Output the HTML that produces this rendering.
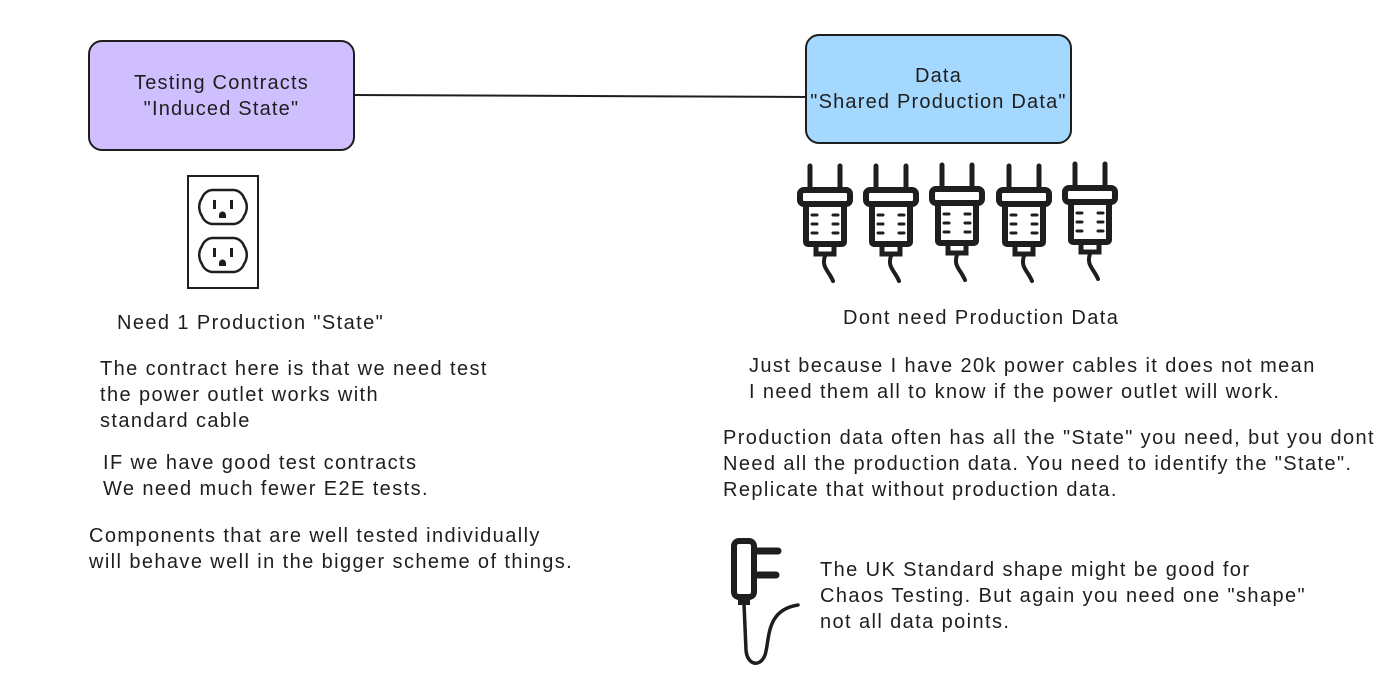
<!DOCTYPE html>
<html><head><style>
body{margin:0;width:1400px;height:685px;background:#fff;position:relative;overflow:hidden;font-family:"Liberation Sans",sans-serif;color:#1e1e1e}
.t{position:absolute;font-size:20px;letter-spacing:1.4px;line-height:26px;white-space:pre}
.box{position:absolute;border:2px solid #1e1e1e;border-radius:14px;box-sizing:border-box;display:flex;align-items:center;justify-content:center;text-align:center;font-size:20px;letter-spacing:1.2px;line-height:26px;white-space:nowrap}
</style></head><body>
<svg width="1400" height="685" style="position:absolute;left:0;top:0">
<line x1="353" y1="95" x2="808" y2="97" stroke="#1e1e1e" stroke-width="2"/>
<defs>
<g id="plug" fill="none" stroke="#1e1e1e" stroke-linecap="round">
<line x1="13" y1="3" x2="13" y2="26" stroke-width="5"/>
<line x1="43" y1="3" x2="43" y2="26" stroke-width="5"/>
<rect x="3" y="27" width="50" height="14" rx="4" stroke-width="6"/>
<rect x="9" y="41" width="38" height="40" rx="2" stroke-width="6"/>
<line x1="15" y1="52" x2="20" y2="52" stroke-width="3"/><line x1="15" y1="61" x2="20" y2="61" stroke-width="3"/><line x1="15" y1="70" x2="20" y2="70" stroke-width="3"/>
<line x1="36" y1="52" x2="41" y2="52" stroke-width="3"/><line x1="36" y1="61" x2="41" y2="61" stroke-width="3"/><line x1="36" y1="70" x2="41" y2="70" stroke-width="3"/>
<rect x="19" y="81" width="18" height="10" stroke-width="5"/>
<path d="M28 93 C24 104 32 108 36 118" stroke-width="4"/>
</g>
</defs>
<use href="#plug" x="797" y="163"/>
<use href="#plug" x="863" y="163"/>
<use href="#plug" x="929" y="162"/>
<use href="#plug" x="996" y="163"/>
<use href="#plug" x="1062" y="161"/>
<g fill="none" stroke="#1e1e1e">
<rect x="188" y="176" width="70" height="112" stroke-width="2"/>
<path d="M212 190 h22 a12 12 0 0 1 10 8 a16 16 0 0 1 0 18 a12 12 0 0 1 -10 8 h-22 a12 12 0 0 1 -10 -8 a16 16 0 0 1 0 -18 a12 12 0 0 1 10 -8z" stroke-width="2.5"/>
<path d="M212 238 h22 a12 12 0 0 1 10 8 a16 16 0 0 1 0 18 a12 12 0 0 1 -10 8 h-22 a12 12 0 0 1 -10 -8 a16 16 0 0 1 0 -18 a12 12 0 0 1 10 -8z" stroke-width="2.5"/>
</g>
<g fill="#1e1e1e">
<rect x="213" y="200" width="3" height="9"/><rect x="230" y="200" width="3" height="9"/><path d="M219 218 v-3 a3.5 3.5 0 0 1 7 0 v3z"/>
<rect x="213" y="248" width="3" height="9"/><rect x="230" y="248" width="3" height="9"/><path d="M219 266 v-3 a3.5 3.5 0 0 1 7 0 v3z"/>
</g>
<g fill="none" stroke="#1e1e1e" stroke-linecap="round">
<rect x="734" y="541" width="20" height="56" rx="5" stroke-width="6"/>
<line x1="756" y1="551" x2="778" y2="551" stroke-width="7"/>
<line x1="756" y1="575" x2="776" y2="575" stroke-width="7"/>
<rect x="740" y="599" width="8" height="4" stroke-width="4"/>
<path d="M744 604 L746 650 C747 665 760 668 765 655 C770 640 765 610 798 605" stroke-width="3.5"/>
</g>
</svg>
<div class="box" style="left:88px;top:40px;width:267px;height:111px;background:#d0bfff">Testing Contracts<br>"Induced State"</div>
<div class="box" style="left:805px;top:34px;width:267px;height:110px;background:#a5d8ff">Data<br>"Shared Production Data"</div>
<div class="t" style="left:117px;top:310px">Need 1 Production "State"</div>
<div class="t" style="left:100px;top:356px">The contract here is that we need test
the power outlet works with
standard cable</div>
<div class="t" style="left:103px;top:450px">IF we have good test contracts
We need much fewer E2E tests.</div>
<div class="t" style="left:89px;top:523px">Components that are well tested individually
will behave well in the bigger scheme of things.</div>
<div class="t" style="left:843px;top:305px">Dont need Production Data</div>
<div class="t" style="left:749px;top:353px">Just because I have 20k power cables it does not mean
I need them all to know if the power outlet will work.</div>
<div class="t" style="left:723px;top:425px">Production data often has all the "State" you need, but you dont
Need all the production data. You need to identify the "State".
Replicate that without production data.</div>
<div class="t" style="left:820px;top:557px">The UK Standard shape might be good for
Chaos Testing. But again you need one "shape"
not all data points.</div>
</body></html>
